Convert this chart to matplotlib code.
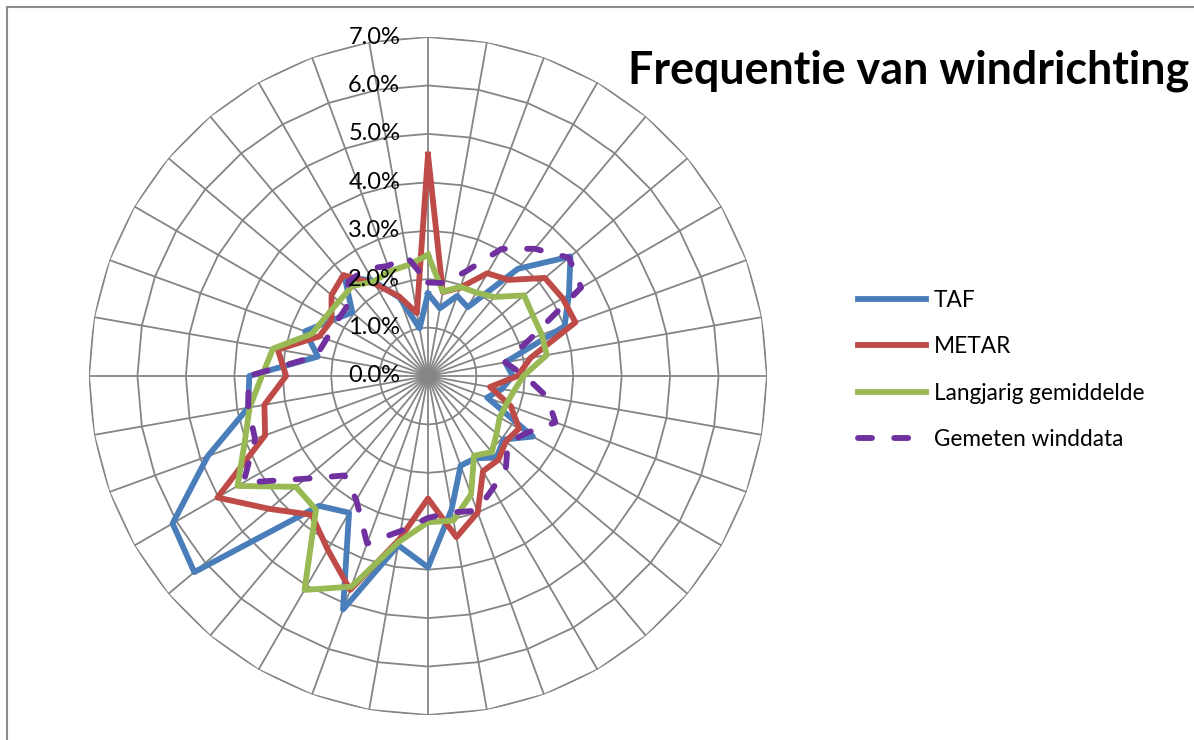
"""
Radardiagram 'Frequentie van windrichting': TAF, METAR, langjarig gemiddelde en gemeten winddata
per windrichting (36 richtingen van 10 graden), nagebouwd in matplotlib en opgeslagen als out.png.
"""
import matplotlib
matplotlib.use("Agg")
import matplotlib.pyplot as plt
import numpy as np

plt.rcParams["font.family"] = ["Lato", "DejaVu Sans"]

# windrichting in graden (0 = noord, met de klok mee)
directions = list(range(0, 360, 10))

# frequentie in procent per richting
taf = [1.70, 1.42, 1.76, 1.64, 2.89, 3.84, 3.36, 3.00, 1.62, 1.75, 1.55, 1.30,
       2.50, 2.04, 2.20, 1.96, 1.97, 2.80, 3.95, 3.55, 5.13, 3.26, 3.50, 6.30,
       6.09, 4.84, 3.77, 3.69, 2.31, 2.70, 2.30, 2.04, 2.68, 2.27, 1.72, 1.00]
metar = [4.57, 1.76, 1.94, 2.45, 2.59, 3.15, 3.21, 3.24, 2.15, 1.85, 1.30, 1.82,
         2.17, 2.10, 2.26, 2.27, 3.00, 3.38, 2.53, 3.43, 4.70, 4.14, 3.74, 4.27,
         5.02, 3.58, 3.43, 2.93, 3.15, 2.39, 2.30, 2.60, 2.72, 2.20, 1.75, 1.32]
langjarig = [2.50, 1.77, 1.96, 1.99, 2.13, 2.59, 2.50, 2.50, 2.49, 1.97, 1.80, 1.72,
             1.71, 1.85, 2.05, 1.90, 2.60, 3.03, 3.02, 3.48, 4.63, 5.10, 3.60, 3.56,
             4.54, 4.03, 3.74, 3.43, 3.25, 2.55, 2.44, 2.40, 2.43, 2.25, 2.30, 2.33]
gemeten = [1.93, 1.95, 2.30, 3.03, 3.43, 3.80, 3.65, 2.25, 1.62, 2.00, 2.50, 2.80,
           2.35, 2.15, 2.50, 2.68, 2.96, 2.86, 2.93, 3.25, 3.68, 2.96, 2.68, 3.30,
           4.40, 3.80, 3.77, 3.70, 2.35, 2.23, 2.20, 2.20, 2.55, 2.55, 2.42, 2.50]

series_names = ["TAF", "METAR", "Langjarig gemiddelde", "Gemeten winddata"]
tick_values = [0, 1, 2, 3, 4, 5, 6, 7]
tick_labels = [f"{v:.1f}%" for v in tick_values]
title = "Frequentie van windrichting"

GRID_COLOR = "#858585"
LINE_W = 4.2
W, H = 1194, 740


def closed(values):
    """Eerste punt achteraan herhalen zodat de lijn rond sluit."""
    return np.append(np.asarray(values, dtype=float), values[0])


fig = plt.figure(figsize=(W / 100, H / 100), dpi=100)

# middelpunt (428, 376) px, straal 339 px voor 7%
cx, cy, rad = 428, 376, 339
ax = fig.add_axes([(cx - rad) / W, (H - cy - rad) / H, 2 * rad / W, 2 * rad / H],
                  projection="polar")
ax.set_theta_zero_location("N")
ax.set_theta_direction(-1)
ax.set_ylim(0, tick_values[-1])
ax.grid(False)
ax.set_xticks([])
ax.set_yticks([])
ax.spines["polar"].set_visible(False)
ax.patch.set_visible(False)

theta = np.deg2rad(directions)
theta_c = np.append(theta, theta[0])

# veelhoekig raster zoals in Excel
for r in tick_values[1:]:
    ax.plot(theta_c, [r] * len(theta_c), color=GRID_COLOR, lw=1.3, zorder=1)
for t in theta:
    ax.plot([t, t], [0, tick_values[-1]], color=GRID_COLOR, lw=1.3, zorder=1)

for v, lab in zip(tick_values, tick_labels):
    ax.annotate(lab, xy=(0, v), xytext=(-20, 0), textcoords="offset points",
                ha="right", va="center", fontsize=17, color="black", zorder=5)

ax.plot(theta_c, closed(taf), color="#4A7EBB", lw=LINE_W, label=series_names[0], zorder=2)
ax.plot(theta_c, closed(metar), color="#BE4B48", lw=LINE_W, label=series_names[1], zorder=2)
ax.plot(theta_c, closed(langjarig), color="#98B954", lw=LINE_W, label=series_names[2], zorder=2)
ax.plot(theta_c, closed(gemeten), color="#7030A0", lw=LINE_W, label=series_names[3],
        dashes=(2.4, 3.8), dash_capstyle="round", zorder=3)

fig.legend(loc="center left", bbox_to_anchor=(858 / W, 1 - 370 / H), frameon=False,
           fontsize=16.3, handlelength=3.0, handletextpad=0.35, labelspacing=1.12,
           borderpad=0, borderaxespad=0)

fig.text(628 / W, 1 - 83 / H, title, fontsize=32.3, fontweight="bold",
         ha="left", va="baseline")

# kader van het grafiekgebied (rechts en onder buiten beeld)
fig.add_artist(plt.Rectangle((7 / W, -0.1), 1.2, 1.1 - 7 / H, transform=fig.transFigure,
                             fill=False, edgecolor="#8c8c8c", lw=1.5))

fig.savefig("out.png", dpi=100)
